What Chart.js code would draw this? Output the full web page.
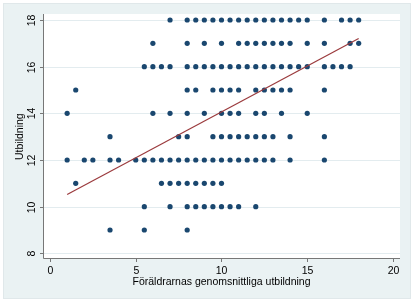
<!DOCTYPE html>
<html>
<head>
<meta charset="utf-8">
<script src="https://cdn.jsdelivr.net/npm/chart.js@4.4.1/dist/chart.umd.min.js"></script>
<style>
  html, body { margin: 0; padding: 0; background: #fff; }
  canvas { display: block; }
</style>
</head>
<body>
<canvas id="graf" width="414" height="303"></canvas>
<script>
// tick labels
const xTicks = [0, 5, 10, 15, 20];
const yTicks = [8, 10, 12, 14, 16, 18];

// föräldrarnas utbildning per nivå av egen utbildning
const rad18 = [7, 8, 8.5, 9, 9.5, 10, 10.5, 11, 11.5, 12, 12.5, 13, 13.5, 14, 14.5, 15, 16, 17, 17.5, 18];
const rad17 = [6, 8, 9, 10, 11, 11.5, 12, 12.5, 13, 13.5, 14, 15, 16, 17.5, 18];
const rad16 = [5.5, 6, 6.5, 7, 8, 8.5, 9, 9.5, 10, 10.5, 11, 11.5, 12, 12.5, 13, 13.5, 14, 14.5, 15, 16, 16.5, 17, 17.5];
const rad15 = [1.5, 8, 8.5, 9.5, 10, 10.5, 11, 12, 12.5, 13, 13.5, 14, 16];
const rad14 = [1, 6, 7, 8, 9, 10, 10.5, 11, 12, 12.5, 13.5, 15];
const rad13 = [3.5, 7.5, 8, 9.5, 10, 10.5, 11, 11.5, 12, 12.5, 13, 14, 16];
const rad12 = [1, 2, 2.5, 3.5, 4, 5, 5.5, 6, 6.5, 7, 7.5, 8, 8.5, 9, 9.5, 10, 10.5, 11, 11.5, 12, 12.5, 13, 14, 16];
const rad11 = [1.5, 6.5, 7, 7.5, 8, 8.5, 9, 9.5, 10];
const rad10 = [5.5, 7, 8, 8.5, 9, 9.5, 10, 10.5, 11, 12];
const rad9 = [3.5, 5.5, 8];

const nivaer = [18, 17, 16, 15, 14, 13, 12, 11, 10, 9];
const rader = [rad18, rad17, rad16, rad15, rad14, rad13, rad12, rad11, rad10, rad9];

// anpassad linje, ändpunkter avlästa
const fitX = [1, 18];
const fitY = [10.52, 17.21];

const punkter = [];
rader.forEach((rad, i) => {
  rad.forEach(x => punkter.push({ x: x, y: nivaer[i] }));
});
const linje = fitX.map((x, i) => ({ x: x, y: fitY[i] }));

const font = "10.5px 'Liberation Sans', Arial, sans-serif";

const stataStil = {
  id: "stataStil",
  beforeDraw(chart) {
    const c = chart.ctx;
    const a = chart.chartArea;
    const ys = chart.scales.y;
    c.save();
    c.fillStyle = "#fff";
    c.fillRect(0, 0, chart.width, chart.height);
    c.fillStyle = "#eaf2f3";
    c.fillRect(4, 4, 406, 294);
    c.strokeStyle = "#e0e8ea";
    c.lineWidth = 1;
    c.strokeRect(3.5, 3.5, 407, 295);
    c.fillStyle = "#fff";
    c.fillRect(a.left, a.top, a.right - a.left, a.bottom - a.top);
    // rutnät
    c.strokeStyle = "#e3ecef";
    yTicks.forEach(v => {
      const y = Math.round(ys.getPixelForValue(v)) + 0.5;
      c.beginPath();
      c.moveTo(a.left, y);
      c.lineTo(a.right, y);
      c.stroke();
    });
    c.restore();
  },
  afterDraw(chart) {
    const c = chart.ctx;
    const a = chart.chartArea;
    const xs = chart.scales.x;
    const ys = chart.scales.y;
    c.save();
    c.strokeStyle = "#777";
    c.lineWidth = 1;
    // axlar
    c.beginPath();
    c.moveTo(a.left - 0.5, a.top);
    c.lineTo(a.left - 0.5, a.bottom + 0.5);
    c.lineTo(a.right, a.bottom + 0.5);
    c.stroke();
    c.fillStyle = "#000";
    c.font = font;
    c.textAlign = "center";
    c.textBaseline = "middle";
    xTicks.forEach(v => {
      const x = Math.round(xs.getPixelForValue(v)) + 0.5;
      c.beginPath();
      c.moveTo(x, a.bottom);
      c.lineTo(x, a.bottom + 4);
      c.stroke();
      c.fillText(String(v), x, a.bottom + 13);
    });
    c.fillText("Föräldrarnas genomsnittliga utbildning", (xs.getPixelForValue(0) + xs.getPixelForValue(20)) / 2, a.bottom + 24);
    yTicks.forEach(v => {
      const y = Math.round(ys.getPixelForValue(v)) + 0.5;
      c.beginPath();
      c.moveTo(a.left - 4, y);
      c.lineTo(a.left, y);
      c.stroke();
      c.save();
      c.translate(a.left - 12, y);
      c.rotate(-Math.PI / 2);
      c.fillText(String(v), 0, 0);
      c.restore();
    });
    c.save();
    c.translate(20, (ys.getPixelForValue(8) + ys.getPixelForValue(18)) / 2);
    c.rotate(-Math.PI / 2);
    c.fillText("Utbildning", 0, 0);
    c.restore();
    c.restore();
  }
};

new Chart(document.getElementById("graf"), {
  type: "scatter",
  data: {
    datasets: [
      {
        type: "line",
        data: linje,
        borderColor: "#9b3a3d",
        borderWidth: 1.2,
        pointRadius: 0,
        fill: false
      },
      {
        data: punkter,
        backgroundColor: "#1a476f",
        borderWidth: 0,
        pointRadius: 2.6
      }
    ]
  },
  options: {
    responsive: false,
    animation: false,
    devicePixelRatio: 1,
    layout: { padding: { left: 44, top: 14, right: 14, bottom: 45 } },
    plugins: { legend: { display: false }, tooltip: { enabled: false } },
    scales: {
      x: { type: "linear", min: -0.35, max: 20.41, display: false },
      y: { type: "linear", min: 7.8, max: 18.257, display: false }
    }
  },
  plugins: [stataStil]
});
</script>
</body>
</html>
